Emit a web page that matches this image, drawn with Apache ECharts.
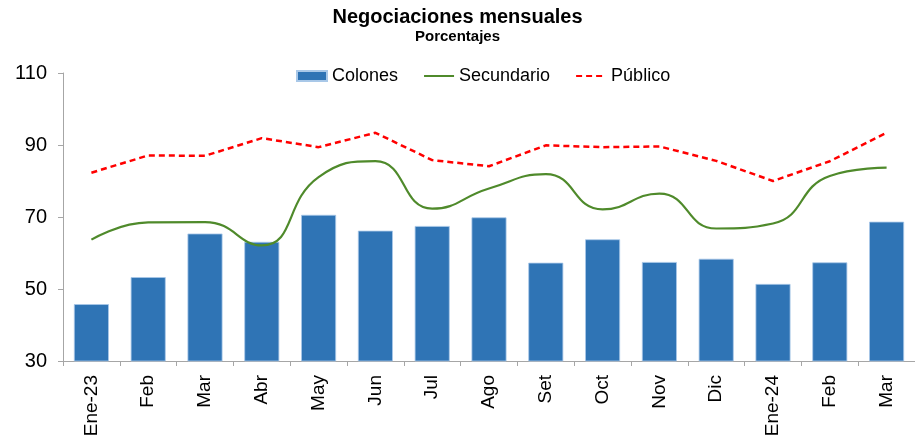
<!DOCTYPE html>
<html>
<head>
<meta charset="utf-8">
<script src="https://cdn.jsdelivr.net/npm/echarts@6/dist/echarts.min.js"></script>
<style>
  html, body { margin: 0; padding: 0; background: #fff; }
  #chart { width: 915px; height: 442px; }
</style>
</head>
<body>
<div id="chart"></div>
<script>
// Monthly trading shares, percent
const months = ['Ene-23', 'Feb', 'Mar', 'Abr', 'May', 'Jun', 'Jul', 'Ago', 'Set', 'Oct', 'Nov', 'Dic', 'Ene-24', 'Feb', 'Mar'];
const colones = [45.8, 53.3, 65.4, 63.1, 70.6, 66.2, 67.5, 69.9, 57.3, 63.8, 57.5, 58.4, 51.4, 57.4, 68.7];
const secundario = [63.7, 68.5, 68.6, 62.1, 81.1, 85.5, 72.3, 77.9, 81.9, 72.1, 76.5, 66.8, 68.2, 81.4, 83.7];
const publico = [82.3, 87.1, 87.0, 91.9, 89.4, 93.4, 85.8, 84.1, 89.9, 89.4, 89.6, 85.6, 80.0, 85.5, 93.4];
const yTicks = { min: 30, max: 110, step: 20 };

const FONT = "'Liberation Sans', Arial, sans-serif";
const AXIS_GREY = '#a6a6a6';

const chart = echarts.init(document.getElementById('chart'), null, { renderer: 'canvas' });
chart.setOption({
  animation: false,
  backgroundColor: '#ffffff',
  textStyle: { fontFamily: FONT },
  title: {
    text: 'Negociaciones mensuales',
    subtext: 'Porcentajes',
    left: 'center',
    top: 2,
    itemGap: 2,
    textStyle: { fontFamily: FONT, fontSize: 20, fontWeight: 'bold', color: '#000' },
    subtextStyle: { fontFamily: FONT, fontSize: 15, fontWeight: 'bold', color: '#000' }
  },
  legend: {
    top: 67,
    left: 296,
    padding: 0,
    itemWidth: 30,
    itemHeight: 10,
    itemGap: 25,
    textStyle: { fontFamily: FONT, fontSize: 18, color: '#000' },
    data: [
      { name: 'Colones', icon: 'rect' },
      { name: 'Secundario', itemStyle: { opacity: 0 } },
      { name: 'Público', itemStyle: { opacity: 0 } }
    ]
  },
  grid: { left: 63, top: 73, width: 857, height: 288 },
  xAxis: {
    type: 'category',
    data: months,
    boundaryGap: true,
    axisLine: { lineStyle: { color: AXIS_GREY, width: 1 } },
    axisTick: { show: true, length: 5, lineStyle: { color: AXIS_GREY } },
    axisLabel: { rotate: 90, margin: 14, fontSize: 19, color: '#000', fontFamily: FONT, interval: 0 },
    splitLine: { show: false }
  },
  yAxis: {
    type: 'value',
    min: yTicks.min,
    max: yTicks.max,
    interval: yTicks.step,
    axisLine: { show: true, lineStyle: { color: AXIS_GREY, width: 1 } },
    axisTick: { show: true, length: 5, lineStyle: { color: AXIS_GREY } },
    axisLabel: { fontSize: 20, color: '#000', fontFamily: FONT, margin: 16 },
    splitLine: { show: false }
  },
  series: [
    {
      name: 'Colones',
      type: 'bar',
      data: colones,
      barWidth: 35,
      itemStyle: { color: '#2f74b5', borderColor: '#a9c8e8', borderWidth: 0.8 }
    },
    {
      name: 'Secundario',
      type: 'line',
      data: secundario,
      smooth: 0.5,
      symbol: 'none',
      lineStyle: { color: '#4f8a2b', width: 2.2 },
      itemStyle: { color: '#4f8a2b' },
      z: 3
    },
    {
      name: 'Público',
      type: 'line',
      data: publico,
      smooth: false,
      symbol: 'none',
      lineStyle: { color: '#ff0000', width: 2.5, type: [6, 4] },
      itemStyle: { color: '#ff0000' },
      z: 4
    }
  ]
});
</script>
</body>
</html>
